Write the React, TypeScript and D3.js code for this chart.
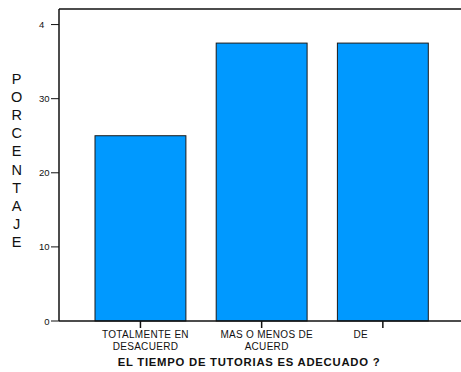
import React, { useEffect, useRef } from 'react'
import * as d3 from 'd3'

const categories = ['TOTALMENTE EN DESACUERD', 'MAS O MENOS DE ACUERD', 'DE ACUERDO']
const labelLines = [['TOTALMENTE EN', 'DESACUERD'], ['MAS O MENOS DE', 'ACUERD'], ['DE']]
const values = [25, 37.5, 37.5]
const yTicks = [0, 10, 20, 30, 40]
const yTickLabels = ['0', '10', '20', '30', '4']
const yTitle = 'PORCENTAJE'
const xTitle = 'EL TIEMPO DE TUTORIAS ES ADECUADO ?'

const App = () => {
    const svgRef = useRef<SVGSVGElement>(null)

    useEffect(() => {
        const svg: any = d3.select(svgRef.current)
        svg.selectAll('*').remove()

        const left = 59, top = 9, bottom = 321, right = 461
        const font = 'Liberation Sans, Arial, sans-serif'

        const y = d3.scaleLinear().domain([0, 42.1]).range([bottom, top])
        const x = d3.scaleBand<string>()
            .domain(categories)
            .range([79.85, 443.45])
            .paddingInner(0.25)
            .paddingOuter(0.125)

        // bars
        svg.selectAll('.bar')
            .data(values)
            .join('rect')
            .attr('class', 'bar')
            .attr('x', (_: number, i: number) => x(categories[i]))
            .attr('y', (d: number) => y(d))
            .attr('width', x.bandwidth())
            .attr('height', (d: number) => y(0) - y(d))
            .attr('fill', '#0099ff')
            .attr('stroke', '#1a1a1a')
            .attr('stroke-width', 1)

        // frame
        const frame = svg.append('g').attr('stroke', '#111').attr('stroke-width', 1.5)
        frame.append('line').attr('x1', left).attr('x2', left).attr('y1', top).attr('y2', bottom)
        frame.append('line').attr('x1', left).attr('x2', right).attr('y1', top).attr('y2', top)
        frame.append('line').attr('x1', left).attr('x2', right).attr('y1', bottom).attr('y2', bottom)

        // y ticks
        const yt = svg.append('g')
        yTicks.forEach((t, i) => {
            yt.append('line')
                .attr('x1', left - 8).attr('x2', left)
                .attr('y1', y(t)).attr('y2', y(t))
                .attr('stroke', '#111').attr('stroke-width', 1)
            const lab = yTickLabels[i]
            const shift = (String(t).length - lab.length) * 5.3
            yt.append('text')
                .attr('x', 49.5 - shift)
                .attr('y', y(t) + 3.5)
                .attr('text-anchor', 'end')
                .attr('font-family', font)
                .attr('font-size', 9.5)
                .attr('fill', '#111')
                .text(lab)
        })

        // x ticks + labels
        const labelShift = [5, 5, -22]
        const xt = svg.append('g')
        categories.forEach((c, i) => {
            const cx = (x(c) as number) + x.bandwidth() / 2
            xt.append('line')
                .attr('x1', cx).attr('x2', cx)
                .attr('y1', bottom).attr('y2', bottom + 7)
                .attr('stroke', '#111').attr('stroke-width', 1.5)
            labelLines[i].forEach((line, j) => {
                xt.append('text')
                    .attr('x', cx + labelShift[i])
                    .attr('y', 338 + j * 11.8)
                    .attr('text-anchor', 'middle')
                    .attr('font-family', font)
                    .attr('font-size', 10)
                    .attr('letter-spacing', 0.3)
                    .attr('fill', '#111')
                    .text(line)
            })
        })

        // x title
        svg.append('text')
            .attr('x', 249)
            .attr('y', 365.5)
            .attr('text-anchor', 'middle')
            .attr('font-family', font)
            .attr('font-size', 11.3)
            .attr('font-weight', 'bold')
            .attr('letter-spacing', 0.75)
            .attr('fill', '#111')
            .text(xTitle)

        // y title, stacked letters
        svg.append('g')
            .selectAll('text')
            .data(yTitle.split(''))
            .join('text')
            .attr('x', 16.7)
            .attr('y', (_: string, i: number) => 84 + i * 18.1)
            .attr('text-anchor', 'middle')
            .attr('font-family', font)
            .attr('font-size', 14.5)
            .attr('fill', '#111')
            .text((d: string) => d)
    }, [])

    return (
        <svg ref={svgRef} width={461} height={372}
            style={{ position: 'absolute', left: 0, top: 0, background: '#fff' }} />
    )
}

export default App
